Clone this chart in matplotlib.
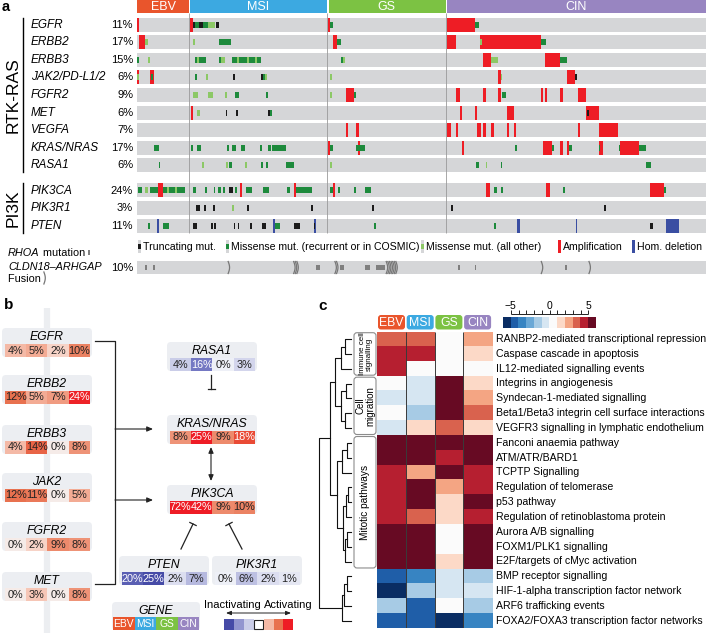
import matplotlib
matplotlib.use('Agg')
import matplotlib.pyplot as plt
import numpy as np
from matplotlib.patches import Rectangle, FancyBboxPatch
from matplotlib.colors import ListedColormap, BoundaryNorm, LinearSegmentedColormap

plt.rcParams['font.family'] = ['Liberation Sans', 'DejaVu Sans']

# ---------------- data: panel a ----------------
subtypes = ['EBV', 'MSI', 'GS', 'CIN']
subtype_n = [26, 69, 59, 130]
subtype_colors = ['#e9552c', '#3ca9e1', '#7cc243', '#9885c1']

rtk_genes = ['EGFR', 'ERBB2', 'ERBB3', 'JAK2/PD-L1/2', 'FGFR2', 'MET', 'VEGFA', 'KRAS/NRAS', 'RASA1']
rtk_pct = [11, 17, 15, 6, 9, 6, 7, 17, 6]
pi3k_genes = ['PIK3CA', 'PIK3R1', 'PTEN']
pi3k_pct = [24, 3, 11]
cldn_pct = 10

# events: (first sample, last sample, kind)  T trunc, M missense recurrent, m missense other, A amp, D hom. del
ev_egfr = [(0, 1, 'A'), (26.5, 27.8, 'A'), (28, 29, 'T'), (29, 31, 'M'), (31, 33, 'T'), (33, 35.5, 'M'),
           (35.5, 39, 'm'), (39.5, 40.8, 'T'), (95.3, 96.5, 'A'), (96.5, 97.7, 'M'), (154.5, 168.5, 'A'),
           (168.5, 170.5, 'M')]
ev_erbb2 = [(1, 4, 'A'), (4, 5.5, 'm'), (28, 28.8, 'm'), (41, 47, 'M'), (97.7, 99.8, 'A'), (99.8, 102, 'M'),
            (154.5, 159, 'A'), (171, 201.7, 'A'), (171, 172.3, 'm'), (201.7, 204, 'M')]
ev_erbb3 = [(0, 1, 'M'), (5.5, 6.3, 'm'), (29, 30, 'M'), (30, 31, 'm'), (31, 34.5, 'M'), (41, 42, 'M'),
            (42, 44, 'm'), (47.5, 50, 'M'), (50, 51, 'm'), (51, 55, 'M'), (55, 56, 'm'), (56, 59, 'M'),
            (59, 60, 'm'), (60, 61.7, 'M'), (102, 103, 'M'), (103, 104, 'm'), (172.7, 176.8, 'A'),
            (176.8, 180, 'm'), (203.8, 211.3, 'A'), (211.3, 214.7, 'M')]
ev_jak2 = [(0, 1, 'A'), (0.2, 0.8, 'm'), (6.3, 8.7, 'A'), (7, 8, 'M'), (29, 30, 'M'), (34.5, 35.3, 'm'),
           (47.8, 49, 'T'), (61.7, 63, 'T'), (63, 64, 'M'), (64, 64.8, 'm'), (96.5, 97.5, 'm'),
           (180.2, 181.5, 'A'), (181.5, 182.3, 'm'), (214.7, 218.8, 'A'), (218.8, 219.6, 'T')]
ev_fgfr2 = [(28, 30.3, 'm'), (35.5, 38, 'm'), (44, 44.8, 'm'), (49, 51, 'M'), (64.5, 65.3, 'M'),
            (96.5, 97.5, 'm'), (104.3, 108.5, 'A'), (108.5, 109.5, 'M'), (159, 161, 'A'), (172.8, 174, 'A'),
            (180.2, 181.5, 'A'), (182, 184, 'M'), (201.7, 202.5, 'A'), (203.8, 204.7, 'A'),
            (211.3, 212.5, 'A'), (220, 224.2, 'A')]
ev_met = [(27, 28, 'A'), (30, 31.3, 'm'), (44.2, 45, 'T'), (49.5, 50.5, 'T'), (65.5, 66.5, 'T'),
          (66.5, 67.5, 'M'), (161, 162, 'A'), (168.5, 169.5, 'A'), (184.5, 188.3, 'A'), (224.2, 230.8, 'A'),
          (224.5, 225.5, 'T')]
ev_vegfa = [(104.3, 105.3, 'A'), (109.5, 110.7, 'A'), (154.5, 156.8, 'A'), (159, 160.2, 'A'),
            (169.5, 171.8, 'A'), (172.8, 174, 'A'), (176.8, 178.2, 'A'), (184.5, 185.7, 'A'),
            (188, 189.2, 'A'), (220, 221, 'A'), (230.8, 240.3, 'A')]
ev_kras = [(8.7, 10.8, 'M'), (27, 27.8, 'M'), (30, 32, 'M'), (45, 46, 'M'), (47.5, 49.5, 'M'),
           (51.7, 53.7, 'M'), (61.3, 62.2, 'M'), (65.5, 66.7, 'M'), (67.5, 74.2, 'M'), (95.3, 96.5, 'A'),
           (96.5, 97.7, 'M'), (109.5, 113.7, 'M'), (110.5, 111.3, 'A'), (162, 163.2, 'A'),
           (188.7, 189.8, 'M'), (202.8, 207.2, 'A'), (207.2, 208, 'M'), (211.3, 212.5, 'A'),
           (214.7, 215.8, 'A'), (215.8, 217, 'M'), (230.5, 232.8, 'A'), (230.5, 231.2, 'M'),
           (240.5, 241.3, 'M'), (241.3, 250.8, 'A'), (250.8, 254.2, 'M')]
ev_rasa1 = [(10.8, 11.7, 'M'), (32.2, 33.3, 'm'), (44.2, 45.3, 'm'), (46, 47.3, 'M'), (53.7, 54.7, 'm'),
            (62, 62.8, 'M'), (64.2, 65.3, 'M'), (74.2, 78.3, 'M'), (96.5, 97.5, 'm'), (169.3, 170.7, 'M'),
            (174, 174.8, 'm'), (181.5, 182.3, 'M'), (254.2, 256.3, 'M')]
ev_pik3ca = [(0.3, 2.3, 'M'), (4, 5.5, 'm'), (6.5, 10.5, 'M'), (10.7, 13.2, 'A'), (13, 24, 'M'),
             (15, 16, 'm'), (19, 20, 'm'), (27.8, 29.5, 'M'), (34, 35, 'M'), (38.2, 39, 'M'),
             (40.6, 41.8, 'M'), (43, 44, 'M'), (45.7, 48, 'T'), (49, 50, 'M'), (51.5, 52.3, 'A'),
             (54.5, 57.3, 'M'), (63, 65.7, 'M'), (74.8, 76.5, 'M'), (78.5, 79.5, 'A'), (79.5, 87.3, 'M'),
             (96.5, 97.8, 'M'), (97.8, 99, 'A'), (100.5, 101.5, 'M'), (108.2, 109.3, 'M'),
             (114, 116.8, 'M'), (174, 176, 'A'), (178.2, 179.5, 'M'), (181.5, 182.5, 'M'),
             (204, 206, 'A'), (212.5, 213.5, 'M'), (256, 262.8, 'A'), (262.8, 264, 'M')]
ev_pik3r1 = [(29.5, 31.5, 'T'), (33.5, 34.5, 'T'), (37.7, 38.7, 'T'), (47.3, 48.2, 'm'), (54.8, 55.8, 'T'),
             (86.8, 87.8, 'T'), (117.3, 118.2, 'T'), (156.8, 157.7, 'T'), (233.2, 234, 'T')]
ev_pten = [(5.7, 6.5, 'M'), (9.8, 10.8, 'D'), (13.2, 16.2, 'M'), (28.2, 29.8, 'T'), (36.8, 37.7, 'T'),
           (38.5, 39.3, 'T'), (48.2, 49, 'T'), (50.2, 51, 'T'), (56.5, 57.5, 'T'), (62.3, 64.3, 'T'),
           (67.8, 68.7, 'D'), (68.7, 71.2, 'M'), (78.2, 81.5, 'T'), (88.2, 89.2, 'D'), (88.4, 89, 'T'),
           (118.2, 119.2, 'M'), (178.2, 179.2, 'M'), (189.8, 191.2, 'D'), (219, 219.8, 'D'),
           (256.2, 257.3, 'T'), (264, 270.7, 'D')]
rtk_events = [ev_egfr, ev_erbb2, ev_erbb3, ev_jak2, ev_fgfr2, ev_met, ev_vegfa, ev_kras, ev_rasa1]
pi3k_events = [ev_pik3ca, ev_pik3r1, ev_pten]

rhoa_mut = [(4, 5.2), (7.8, 9), (89.5, 91.2), (101.2, 103.5), (114, 116.2), (119.5, 124), (160.2, 161),
            (168.5, 169.3), (213.5, 214.8)]
cldn_fusion = [45.5, 78.2, 79, 79.8, 98.8, 99.6, 124.4, 125.2, 126, 126.8, 127.6, 128.4, 129.2,
               201.8, 225.6]

# ---------------- data: panel b ----------------
b_genes = ['EGFR', 'ERBB2', 'ERBB3', 'JAK2', 'FGFR2', 'MET', 'RASA1', 'KRAS/NRAS', 'PIK3CA', 'PTEN', 'PIK3R1']
b_values = [[4, 5, 2, 10], [12, 5, 7, 24], [4, 14, 0, 8], [12, 11, 0, 5], [0, 2, 9, 8], [0, 3, 0, 8],
            [4, 16, 0, 3], [8, 25, 9, 18], [72, 42, 9, 10], [20, 25, 2, 7], [0, 6, 2, 1]]
b_kind = ['act', 'act', 'act', 'act', 'act', 'act', 'inact', 'act', 'act', 'inact', 'inact']
legend_values = [-25, -12, -4, 0, 4, 12, 25]

# ---------------- data: panel c ----------------
pathways = ['RANBP2-mediated transcriptional repression', 'Caspase cascade in apoptosis',
            'IL12-mediated signalling events', 'Integrins in angiogenesis', 'Syndecan-1-mediated signalling',
            'Beta1/Beta3 integrin cell surface interactions', 'VEGFR3 signalling in lymphatic endothelium',
            'Fanconi anaemia pathway', 'ATM/ATR/BARD1', 'TCPTP Signalling', 'Regulation of telomerase',
            'p53 pathway', 'Regulation of retinoblastoma protein', 'Aurora A/B signalling',
            'FOXM1/PLK1 signalling', 'E2F/targets of cMyc activation', 'BMP receptor signalling',
            'HIF-1-alpha transcription factor network', 'ARF6 trafficking events',
            'FOXA2/FOXA3 transcription factor networks']
scores = np.array([
    [3.5, 3.5, 0.5, 2.5], [4.5, 4.5, 0.5, 1.5], [4.5, 0.5, 0.5, 0.5], [0.5, -0.5, 5.5, 1.5],
    [-0.5, -0.5, 5.5, 2.5], [0.5, -1.5, 5.5, 3.5], [-0.5, 1.5, 3.5, 1.5], [5.5, 5.5, 5.5, 5.5],
    [5.5, 5.5, 4.5, 5.5], [4.5, 2.5, 5.5, 4.5], [4.5, 5.5, 2.5, 4.5], [4.5, 5.5, 1.5, 5.5],
    [4.5, 3.5, 1.5, 4.5], [5.5, 5.5, 0.5, 5.5], [5.5, 5.5, 0.5, 5.5], [5.5, 5.5, 1.5, 5.5],
    [-4.5, -3.5, -0.5, -1.5], [-5.5, -1.5, -0.5, -0.5], [-1.5, -4.5, 0.5, -1.5], [-4.5, -4.5, -5.5, -3.5]])
groups = [('Immune cell\nsignalling', 0, 3, 5.8), ('Cell\nmigration', 3, 7, 7), ('Mitotic pathways', 7, 16, 7.3)]
# (height, left, right); leaves are row indices
tree = (1.0,
        (0.66,
         (0.5, (0.31, (0.19, 0, 1), 2), (0.3, (0.17, 3, 4), (0.19, 5, 6))),
         (0.44, (0.29, (0.13, 7, 8), 9), (0.25, (0.17, (0.09, 10, 11), 12), (0.2, (0.13, 13, 14), 15)))),
        (0.28, (0.22, (0.13, 16, 17), 18), 19))
hm_colors = ['#0a2d63', '#1f5ea8', '#3784c2', '#6aa8d6', '#a7cbe5', '#d6e6f2',
             '#fbfbfb', '#fcd9c7', '#f4a583', '#d9624e', '#b61f30', '#670a23']

# ---------------- figure ----------------
W, H = 707, 633
fig = plt.figure(figsize=(W / 100, H / 100), dpi=100)


def px_axes(x0, y0, x1, y1):
    return fig.add_axes([x0 / W, 1 - y1 / H, (x1 - x0) / W, (y1 - y0) / H])


bg = px_axes(0, 0, W, H)
bg.set_xlim(0, W)
bg.set_ylim(H, 0)
bg.axis('off')

# ---- panel a ----
N = sum(subtype_n)
bounds = np.cumsum([0] + subtype_n)
oc = px_axes(137, 0, 706, 285)
oc.set_xlim(0, N)
oc.set_ylim(285, 0)
oc.axis('off')

for i, s in enumerate(subtypes):
    x0 = bounds[i] + (0.6 if i else 0)
    oc.add_patch(Rectangle((x0, 0), bounds[i + 1] - x0, 13, color=subtype_colors[i], lw=0))
    oc.text((bounds[i] + bounds[i + 1]) / 2, 10.5, s, color='white', ha='center', va='baseline', fontsize=9)

rtk_y = 24.5 + 17.6 * np.arange(len(rtk_genes))
pi3k_y = 190.3 + 17.7 * np.arange(len(pi3k_genes))
cldn_y = 267.5
kind_color = {'T': '#1b1b1b', 'M': '#1d8a3c', 'm': '#8cc866', 'A': '#ee1d25', 'D': '#3a4ea2'}

for y in list(rtk_y) + list(pi3k_y):
    oc.add_patch(Rectangle((0, y - 7), N, 14, color='#d5d6d8', lw=0, zorder=1))
oc.add_patch(Rectangle((0, cldn_y - 6.5), N, 13, color='#d5d6d8', lw=0, zorder=1))
oc.vlines(bounds[1:4], 13, 233, color='#9a9a9a', lw=0.6, zorder=2)

for y, events in zip(list(rtk_y) + list(pi3k_y), rtk_events + pi3k_events):
    for s, e, k in sorted(events, key=lambda ev: ev[2] in 'TMm'):
        h = 14 if k in 'AD' else 6
        oc.add_patch(Rectangle((s, y - h / 2), max(e - s, 0.6), h, color=kind_color[k], lw=0, zorder=3))

for s, e in rhoa_mut:
    oc.add_patch(Rectangle((s, cldn_y - 2.5), e - s, 5, color='#7f7f7f', lw=0, zorder=3))
t = np.linspace(0, 1, 20)
for f in cldn_fusion:
    oc.plot(f + 0.7 * np.sin(np.pi * t), cldn_y - 6 + 12 * t, color='#777777', lw=0.9, zorder=3)

for y, g, p in zip(rtk_y, rtk_genes, rtk_pct):
    bg.text(31, y + 3.2, g, style='italic', fontsize=8.5, va='baseline')
    bg.text(133, y + 3.2, f'{p}%', fontsize=8, va='baseline', ha='right')
for y, g, p in zip(pi3k_y, pi3k_genes, pi3k_pct):
    bg.text(31, y + 3.2, g, style='italic', fontsize=8.5, va='baseline')
    bg.text(133, y + 3.2, f'{p}%', fontsize=8, va='baseline', ha='right')
bg.text(133, cldn_y + 3.2, f'{cldn_pct}%', fontsize=8, va='baseline', ha='right')

bg.text(13, (rtk_y[0] + rtk_y[-1]) / 2, 'RTK-RAS', rotation=90, fontsize=12.5, ha='center', va='center')
bg.plot([23, 23], [rtk_y[0] - 7, rtk_y[-1] + 7], color='k', lw=1)
bg.text(13, pi3k_y[1], 'PI3K', rotation=90, fontsize=12.5, ha='center', va='center')
bg.plot([23, 23], [pi3k_y[0] - 7, pi3k_y[-1] + 7], color='k', lw=1)
bg.text(2, 11, 'a', fontsize=10.5, fontweight='bold', va='baseline')

renderer = fig.canvas.get_renderer()


def seq_text(x, y, parts, **kw):
    for s, style in parts:
        tx = bg.text(x, y, s, style=style, va='baseline', **kw)
        x += tx.get_window_extent(renderer=renderer).width
    return x


xe = seq_text(8, 256, [('RHOA', 'italic'), (' mutation ', 'normal')], fontsize=7.8)
bg.add_patch(Rectangle((xe, 250), 2, 5, color='#7f7f7f', lw=0))
bg.text(8, 269.5, 'CLDN18\u2013ARHGAP', style='italic', fontsize=7.8, va='baseline')
xe = seq_text(8, 281.5, [('Fusion ', 'normal')], fontsize=7.8)
bg.plot(xe + 1.4 * np.sin(np.pi * t), 272 + 12 * t, color='#777777', lw=0.9)

# legend row
leg_items = [('T', 'Truncating mut.', 138), ('M', 'Missense mut. (recurrent or in COSMIC)', 226),
             ('m', 'Missense mut. (all other)', 421), ('A', 'Amplification', 558), ('D', 'Hom. deletion', 632)]
for k, label, x in leg_items:
    if k in 'AD':
        bg.add_patch(Rectangle((x, 240), 3, 13, color=kind_color[k], lw=0))
    else:
        bg.add_patch(Rectangle((x, 240), 3, 13, color='#d5d6d8', lw=0))
        bg.add_patch(Rectangle((x, 244), 3, 5, color=kind_color[k], lw=0))
    bg.text(x + 5, 250.5, label, fontsize=7.6, va='baseline')

# ---- panel b ----
act_cmap = LinearSegmentedColormap.from_list(
    'act', [(0, '#f5ebe8'), (0.08, '#f7d3c6'), (0.2, '#f3ab94'), (0.48, '#e8714f'), (0.72, '#e94a35'),
            (1, '#ee1c25')])
inact_cmap = LinearSegmentedColormap.from_list(
    'inact', [(0, '#eef0f7'), (0.15, '#cbcee9'), (0.3, '#b3b6dd'), (0.64, '#7478c3'), (0.8, '#5a5fb3'),
              (1, '#464ba7')])


def alt_color(v, kind):
    cm = act_cmap if kind == 'act' else inact_cmap
    return cm(float(np.clip(abs(v) / 25.0, 0.0, 1.0)))


bg.text(4, 309, 'b', fontsize=11, fontweight='bold', va='baseline')
bg.plot([47, 47], [308, 633], color='#eceef1', lw=4.5, solid_capstyle='butt', zorder=1)

box_pos = [(2, 328), (2, 375), (2, 425), (2, 473), (2, 522), (2, 572),
           (167, 342), (167, 415), (167, 485), (119, 556), (212, 556)]
for (x0, y0), g, vals, kind in zip(box_pos, b_genes, b_values, b_kind):
    bg.add_patch(FancyBboxPatch((x0, y0), 90, 29, boxstyle='round,pad=0,rounding_size=4',
                                fc='#eceef2', ec='none', zorder=2))
    bg.text(x0 + 45, y0 + 12, g, style='italic', fontsize=8.8, ha='center', va='baseline', zorder=4)
    for i, v in enumerate(vals):
        cx = x0 + 3 + i * 21.2
        bg.add_patch(Rectangle((cx, y0 + 15.5), 21.2, 13.5, color=alt_color(v, kind), lw=0, zorder=3))
        bg.text(cx + 10.6, y0 + 25.5, f'{v}%', fontsize=7.8, ha='center', va='baseline', zorder=4,
                color='white' if v >= 15 else '#222222')

# pathway connectors
bg.plot([95, 115, 115, 95], [341, 341, 584, 584], color='#222222', lw=0.9)
for yy in (429, 500):
    bg.annotate('', xy=(153, yy), xytext=(115, yy),
                arrowprops=dict(arrowstyle='-|>,head_length=0.35,head_width=0.15', color='#222222', lw=0.8,
                                shrinkA=0, shrinkB=0))
bg.annotate('', xy=(211, 447), xytext=(211, 481),
            arrowprops=dict(arrowstyle='<|-|>,head_length=0.35,head_width=0.15', color='#222222', lw=0.8,
                            shrinkA=0, shrinkB=0))


def inhibit(x0, y0, x1, y1, bar=3.5):
    bg.plot([x0, x1], [y0, y1], color='#222222', lw=0.9)
    d = np.array([x1 - x0, y1 - y0])
    n = np.array([-d[1], d[0]]) / np.hypot(*d)
    bg.plot([x1 - n[0] * bar, x1 + n[0] * bar], [y1 - n[1] * bar, y1 + n[1] * bar], color='#222222', lw=0.9)


inhibit(211, 375, 211, 389)
inhibit(181, 549, 193, 524)
inhibit(242, 549, 229, 524)

# GENE legend
bg.add_patch(FancyBboxPatch((112, 602), 88, 28, boxstyle='round,pad=0,rounding_size=4',
                            fc='#eceef2', ec='none', zorder=2))
bg.text(156, 614, 'GENE', style='italic', fontsize=8.8, ha='center', va='baseline')
for i, s in enumerate(subtypes):
    bg.add_patch(Rectangle((113 + i * 21.5, 617), 21.5, 12.5, color=subtype_colors[i], lw=0, zorder=3))
    bg.text(113 + i * 21.5 + 10.75, 627, s, color='white', fontsize=7.4, ha='center', va='baseline', zorder=4)

bg.text(204, 608, 'Inactivating', fontsize=8, va='baseline')
bg.text(313, 608, 'Activating', fontsize=8, va='baseline', ha='right')
bg.annotate('', xy=(291, 613), xytext=(226, 613),
            arrowprops=dict(arrowstyle='<|-|>,head_length=0.3,head_width=0.12', color='#222222', lw=0.7,
                            shrinkA=0, shrinkB=0))
for i, v in enumerate(legend_values):
    x0 = 224 + i * 9.9
    if v == 0:
        bg.add_patch(Rectangle((x0 + 0.6, 619.6), 8.7, 9.3, fc='white', ec='#222222', lw=0.8, zorder=3))
    else:
        bg.add_patch(Rectangle((x0, 619), 9.9, 10.5, color=alt_color(v, 'act' if v > 0 else 'inact'),
                               lw=0, zorder=3))

# ---- panel c ----
n_rows = len(pathways)
top, bot = 331.7, 628.3
pitch = (bot - top) / n_rows
bg.text(318, 310, 'c', fontsize=11, fontweight='bold', va='baseline')

hm = px_axes(377, top, 492, bot)
cmap = ListedColormap(hm_colors)
norm = BoundaryNorm(np.arange(-6, 7), cmap.N)
hm.imshow(scores, cmap=cmap, norm=norm, aspect='auto', interpolation='nearest', extent=(0, 4, n_rows, 0))
hm.vlines([1, 2, 3], 0, n_rows, color='#3a3a3a', lw=0.7)
hm.set_xlim(0, 4)
hm.set_ylim(n_rows, 0)
hm.axis('off')

for i, p in enumerate(pathways):
    bg.text(496, top + (i + 0.5) * pitch + 2.8, p, fontsize=7.6, va='baseline')

for i, s in enumerate(subtypes):
    x0 = 378 + i * 28.7
    bg.add_patch(FancyBboxPatch((x0, 315), 27, 14.5, boxstyle='round,pad=0,rounding_size=3',
                                fc=subtype_colors[i], ec='none'))
    bg.text(x0 + 13.5, 326.3, s, color='white', fontsize=8.8, ha='center', va='baseline')

for label, r0, r1, fs in groups:
    y0 = top + r0 * pitch + 1
    y1 = top + r1 * pitch - 1
    bg.add_patch(FancyBboxPatch((354, y0), 22, y1 - y0, boxstyle='round,pad=0,rounding_size=3',
                                fc='white', ec='#8c8c8c', lw=0.8))
    bg.text(365.5, (y0 + y1) / 2, label, rotation=90, fontsize=fs, ha='center', va='center',
            linespacing=0.95)

dn = px_axes(319, top, 351, bot)
dn.set_xlim(1, 0)
dn.set_ylim(n_rows, 0)
dn.axis('off')


def draw_tree(node):
    if isinstance(node, int):
        return node + 0.5, 0.0
    h, a, b = node
    ya, ha = draw_tree(a)
    yb, hb = draw_tree(b)
    dn.plot([ha, h, h, hb], [ya, ya, yb, yb], color='#111111', lw=0.8, clip_on=False)
    return (ya + yb) / 2, h


draw_tree(tree)

# colour key
cax = px_axes(503, 317, 596, 328)
cax.imshow(np.arange(12).reshape(1, -1), cmap=cmap, aspect='auto', extent=(-6, 6, 0, 1))
cax.axis('off')
tax = px_axes(503, 300, 596, 316)
tax.set_xlim(-6, 6)
tax.set_ylim(316, 300)
tax.axis('off')
tax.hlines(313.5, -5, 5, color='#222222', lw=0.7)
tax.vlines(np.arange(-5, 6), 310, 313.5, color='#222222', lw=0.7)
for v, s in [(-5, '\u22125'), (0, '0'), (5, '5')]:
    tax.text(v, 309, s, fontsize=7.5, ha='center', va='baseline')

fig.savefig('out.png', dpi=100)
